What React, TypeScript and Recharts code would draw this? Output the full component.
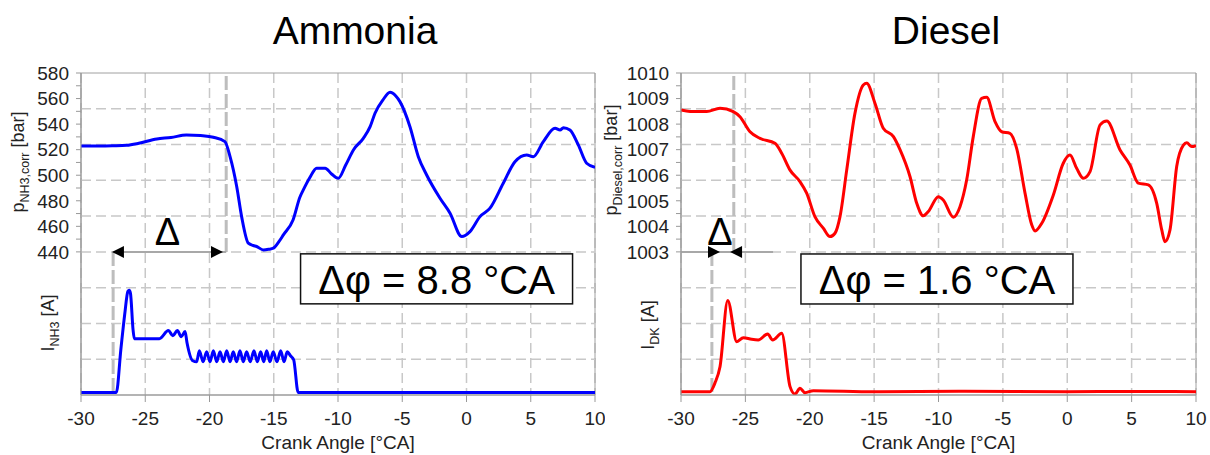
import React from 'react';
import {
  ComposedChart,
  Line,
  XAxis,
  YAxis,
  CartesianGrid,
  ReferenceLine,
  ReferenceDot,
  ReferenceArea,
} from 'recharts';

const FONT = '"Liberation Sans", Arial, sans-serif';

// ---------- shared axis data ----------
const crankTicks = [-30, -25, -20, -15, -10, -5, 0, 5, 10];
const nh3PressureTicks = [440, 450, 460, 470, 480, 490, 500, 510, 520, 530, 540, 550, 560, 570, 580];
const dieselPressureTicks = [1003, 1003.5, 1004, 1004.5, 1005, 1005.5, 1006, 1006.5, 1007, 1007.5, 1008, 1008.5, 1009, 1009.5, 1010];
// horizontal grid levels (9 equal rows over the whole panel), in each panel's pressure units
const nh3GridLevels = [356, 384, 412, 440, 468, 496, 524, 552];
const dieselGridLevels = [998.8, 1000.2, 1001.6, 1003, 1004.4, 1005.8, 1007.2, 1008.6];

// ---------- Ammonia (NH3) ----------
const nh3PressureAngle = [
  -30, -28.5, -27.5, -26.45, -25.5, -24.1, -23, -21.8, -20.7, -19.7, -18.8, -18.4, -17.88, -17.5, -16.98,
  -16.6, -16.33, -15.8, -15.4, -15.03, -14.6, -14.25, -13.5, -12.96, -12.7, -12.2, -11.66, -11.0, -10.5,
  -9.98, -9.4, -8.8, -8.03, -7.5, -7.12, -6.5, -5.95, -5.5, -5.18, -4.4, -3.75, -3.1, -2.06, -1.28, -0.37,
  0.27, 1.05, 1.83, 2.86, 3.77, 4.68, 5.2, 5.98, 6.89, 7.28, 7.54, 8.05, 8.7, 9.35, 10,
];
const nh3PressureBar = [
  522.9, 522.8, 523.0, 523.4, 525, 528.4, 529.5, 531.5, 531, 529.7, 526.3, 514.5, 491, 467.6, 446.8,
  445, 444.2, 441.5, 442, 442.9, 448, 453.3, 465, 483, 488.5, 498, 505.5, 505.5, 501,
  497.6, 508, 519.8, 528.9, 538, 548.5, 559, 564.9, 562, 557.6, 538, 514.5, 500.2, 482, 470.3, 452,
  455.9, 467.6, 474.2, 493.7, 510.6, 515.9, 514.5, 526.3, 536.7, 535.4, 537.2, 535.4, 523.7, 509.4, 506.2,
];
const nh3CurrentAngle = [
  -30, -27.25, -26.9, -26.6, -26.35, -26.25, -26.15, -25.95, -25.85, -24.5, -23.9, -23.2, -22.85, -22.5,
  -22.2, -21.9, -21.75, -21.3, -21.0, -20.79, -20.5, -20.22, -19.96, -19.7, -19.44, -19.18, -18.92, -18.66,
  -18.4, -18.15, -17.89, -17.63, -17.37, -17.11, -16.83, -16.54, -16.28, -16.02, -15.78, -15.55, -15.3,
  -15.04, -14.75, -14.46, -14.2, -13.95, -13.7, -13.45, -13.1, 10,
];
const nh3CurrentA = [
  0.25, 0.25, 4.5, 8.0, 10.3, 10.4, 10.1, 6.5, 5.6, 5.6, 5.6, 6.4, 5.9, 6.4,
  5.8, 6.3, 5.2, 3.4, 3.3, 4.4, 3.3, 4.3, 3.3, 4.4, 3.3, 4.3, 3.3, 4.4,
  3.3, 4.3, 3.3, 4.4, 3.3, 4.3, 3.3, 4.4, 3.3, 4.3, 3.3, 4.4, 3.3,
  4.3, 3.3, 4.4, 3.3, 4.3, 3.9, 3.5, 0.25, 0.25,
];

// ---------- Diesel ----------
const dieselPressureAngle = [
  -30, -29.3, -28, -26.97, -25.94, -25.42, -24.64, -23.86, -22.7, -22.18, -21.53, -20.76, -20.24, -19.6,
  -18.95, -18.43, -18.04, -17.65, -17.13, -16.49, -15.84, -15.58, -14.93, -14.29, -13.5, -12.99, -12.21,
  -11.69, -11.18, -10.79, -10.01, -9.63, -8.85, -8.33, -7.81, -7.3, -6.65, -6.26, -5.61, -5.09, -4.45,
  -3.93, -3.28, -2.76, -2.5, -1.98, -1.08, -0.31, 0.21, 0.73, 1.25, 1.77, 2.55, 3.07, 4.1, 4.87, 5.52,
  6.3, 6.95, 7.34, 7.59, 7.98, 8.5, 9.02, 9.28, 9.67, 10,
];
const dieselPressureBar = [
  1008.55, 1008.49, 1008.49, 1008.62, 1008.49, 1008.29, 1007.7, 1007.44, 1007.25, 1006.86, 1006.2, 1005.75,
  1005.3, 1004.38, 1003.93, 1003.6, 1003.73, 1004.38, 1006.2, 1008.42, 1009.53, 1009.6, 1008.81, 1007.84,
  1007.51, 1007.0, 1005.94, 1004.9, 1004.41, 1004.58, 1005.16, 1005.03, 1004.36, 1004.77, 1005.82, 1007.51,
  1009.01, 1009.05, 1008.1, 1007.7, 1007.64, 1007.05, 1005.3, 1004.06, 1003.82, 1004.12, 1005.23, 1006.47,
  1006.79, 1006.27, 1005.88, 1006.14, 1007.97, 1008.12, 1006.99, 1006.4, 1005.69, 1005.62, 1004.9, 1003.86,
  1003.4, 1003.86, 1006.34, 1007.18, 1007.27, 1007.12, 1007.16,
];
const dieselCurrentAngle = [
  -30, -27.75, -27.36, -26.97, -26.37, -25.67, -25.16, -24.51, -24.0, -23.27, -22.88, -22.18, -21.53,
  -21.15, -20.76, -20.37, -19.72, -15, -8, 0, 5, 10,
];
const dieselCurrentA = [
  0.33, 0.33, 1.2, 2.8, 9.4, 5.3, 5.7, 5.53, 5.47, 6.06, 5.47, 6.13, 0.83,
  0.1, 0.66, 0.23, 0.43, 0.33, 0.38, 0.33, 0.36, 0.33,
];

const zip = (xs: number[], ys: number[]) => xs.map((x, i) => ({ x, y: ys[i] }));

const nh3Pressure = zip(nh3PressureAngle, nh3PressureBar);
const nh3Current = zip(nh3CurrentAngle, nh3CurrentA);
const dieselPressure = zip(dieselPressureAngle, dieselPressureBar);
const dieselCurrent = zip(dieselCurrentAngle, dieselCurrentA);

// ---------- helpers ----------
const XLabel = (props: any) => {
  const vb = props.viewBox || { x: 0, y: 0, width: 0 };
  return (
    <text x={vb.x + vb.width / 2} y={vb.y + 54} textAnchor="middle" fontSize={19} fill="#222" fontFamily={FONT}>
      Crank Angle [°CA]
    </text>
  );
};

const YLabels = (props: any) => {
  const vb = props.viewBox || { x: 0, y: 0 };
  const { pSub, iSub, pX, pY, iX, iY } = props;
  const px = vb.x + pX;
  const py = vb.y + pY;
  const ix = vb.x + iX;
  const iy = vb.y + iY;
  return (
    <g fontFamily={FONT} fill="#222">
      <text transform={`rotate(-90 ${px} ${py})`} x={px} y={py} textAnchor="middle" fontSize={18}>
        p<tspan dy={5} fontSize={12.5}>{pSub}</tspan>
        <tspan dy={-5}> [bar]</tspan>
      </text>
      <text transform={`rotate(-90 ${ix} ${iy})`} x={ix} y={iy} textAnchor="middle" fontSize={18}>
        I<tspan dy={5} fontSize={12.5}>{iSub}</tspan>
        <tspan dy={-5}> [A]</tspan>
      </text>
    </g>
  );
};

const triangle = (dir: 'left' | 'right') => (p: any) => {
  const { cx, cy } = p;
  const w = 12;
  const h = 6;
  const pts =
    dir === 'left'
      ? `${cx},${cy} ${cx + w},${cy - h} ${cx + w},${cy + h}`
      : `${cx},${cy} ${cx - w},${cy - h} ${cx - w},${cy + h}`;
  return <polygon points={pts} fill="#000" />;
};

const deltaShape = (p: any) => (
  <text x={p.cx} y={p.cy} textAnchor="middle" fontSize={38} fontFamily={FONT} fill="#000">
    Δ
  </text>
);

const boxShape = (text: string) => (p: any) => (
  <g>
    <rect x={p.cx - 136} y={p.cy - 25} width={272} height={50} fill="#fff" stroke="#111" strokeWidth={1.5} />
    <text x={p.cx} y={p.cy + 15} textAnchor="middle" fontSize={40} fontFamily={FONT} fill="#000">
      {text}
    </text>
  </g>
);

type Arrow = { x: number; dir: 'left' | 'right' };

type PanelProps = {
  left: number;
  width: number;
  rightMargin: number;
  color: string;
  pData: { x: number; y: number }[];
  iData: { x: number; y: number }[];
  pDomain: [number, number];
  pTicks: number[];
  pFmt: (v: number) => string;
  gridLevels: number[];
  pSub: string;
  iSub: string;
  pLabelX: number;
  pLabelY: number;
  iLabelX: number;
  iLabelY: number;
  lowMarkerX: number;
  highMarkerX: number;
  refLevel: number;
  dimFrom: number;
  dimTo: number;
  arrows: Arrow[];
  deltaX: number;
  deltaY: number;
  boxX: number;
  boxY: number;
  boxText: string;
};

const Panel = (p: PanelProps) => {
  const [pMin, pMax] = p.pDomain;
  return (
    <div style={{ position: 'absolute', left: p.left, top: 0, width: p.width, height: 455 }}>
      <ComposedChart width={p.width} height={455} margin={{ top: 73, right: p.rightMargin, bottom: 0, left: 0 }}>
        <CartesianGrid horizontal={false} stroke="#c8c8c8" strokeWidth={1.5} strokeDasharray="10 5" />
        <XAxis
          dataKey="x"
          type="number"
          domain={[-30, 10]}
          ticks={crankTicks}
          interval={0}
          allowDataOverflow
          height={60}
          stroke="#999"
          tickSize={7}
          tickMargin={10}
          tick={{ fontSize: 19, fill: '#222', fontFamily: FONT }}
          label={<XLabel />}
        />
        <YAxis
          yAxisId="p"
          type="number"
          orientation="left"
          width={81}
          domain={p.pDomain}
          ticks={p.pTicks}
          interval={0}
          allowDataOverflow
          tickFormatter={p.pFmt}
          stroke="#999"
          tickSize={5}
          tickMargin={7}
          tick={{ fontSize: 19, fill: '#222', fontFamily: FONT }}
          label={
            <YLabels pSub={p.pSub} iSub={p.iSub} pX={p.pLabelX} pY={p.pLabelY} iX={p.iLabelX} iY={p.iLabelY} />
          }
        />
        <YAxis yAxisId="i" type="number" orientation="right" width={0} hide domain={[0, 32]} allowDataOverflow />
        {p.gridLevels.map((g) => (
          <ReferenceLine
            key={g}
            yAxisId="p"
            y={g}
            stroke="#c8c8c8"
            strokeWidth={1.5}
            strokeDasharray="10 5"
          />
        ))}
        <ReferenceArea
          yAxisId="p"
          x1={-30}
          x2={10}
          y1={pMin}
          y2={pMax}
          fill="#fff"
          fillOpacity={0}
          stroke="#a0a0a0"
          strokeWidth={1}
          ifOverflow="visible"
        />
        <ReferenceLine
          yAxisId="p"
          segment={[
            { x: p.lowMarkerX, y: p.refLevel },
            { x: p.lowMarkerX, y: pMin + (p.refLevel - pMin) * 0.015 },
          ]}
          stroke="#bdbdbd"
          strokeWidth={3}
          strokeDasharray="14 4"
        />
        <ReferenceLine
          yAxisId="p"
          segment={[
            { x: p.highMarkerX, y: p.refLevel },
            { x: p.highMarkerX, y: pMax },
          ]}
          stroke="#bdbdbd"
          strokeWidth={3}
          strokeDasharray="14 4"
        />
        <ReferenceLine
          yAxisId="p"
          segment={[
            { x: p.dimFrom, y: p.refLevel },
            { x: p.dimTo, y: p.refLevel },
          ]}
          stroke="#a8a8a8"
          strokeWidth={2}
        />
        <Line
          data={p.pData}
          dataKey="y"
          yAxisId="p"
          type="monotone"
          stroke={p.color}
          strokeWidth={3}
          dot={false}
          isAnimationActive={false}
        />
        <Line
          data={p.iData}
          dataKey="y"
          yAxisId="i"
          type="monotone"
          stroke={p.color}
          strokeWidth={3}
          dot={false}
          isAnimationActive={false}
        />
        {p.arrows.map((a, k) => (
          <ReferenceDot key={k} yAxisId="p" x={a.x} y={p.refLevel} r={1} shape={triangle(a.dir)} />
        ))}
        <ReferenceDot yAxisId="p" x={p.deltaX} y={p.deltaY} r={1} shape={deltaShape} />
        <ReferenceDot yAxisId="p" x={p.boxX} y={p.boxY} r={1} shape={boxShape(p.boxText)} />
      </ComposedChart>
    </div>
  );
};

export default function App() {
  return (
    <div style={{ position: 'absolute', left: 0, top: 0, width: 1210, height: 455, background: '#fff' }}>
      <Panel
        left={0}
        width={605}
        rightMargin={10}
        color="#0000ff"
        pData={nh3Pressure}
        iData={nh3Current}
        pDomain={[328, 580]}
        pTicks={nh3PressureTicks}
        pFmt={(v: number) => (v % 20 === 0 ? String(v) : '')}
        gridLevels={nh3GridLevels}
        pSub="NH3,corr"
        iSub="NH3"
        pLabelX={24}
        pLabelY={89}
        iLabelX={54}
        iLabelY={250}
        lowMarkerX={-27.5}
        highMarkerX={-18.7}
        refLevel={440}
        dimFrom={-27.5}
        dimTo={-18.7}
        arrows={[
          { x: -27.59, dir: 'left' },
          { x: -18.95, dir: 'right' },
        ]}
        deltaX={-23.27}
        deltaY={445.5}
        boxX={-2.33}
        boxY={418.9}
        boxText="Δφ = 8.8 °CA"
      />
      <Panel
        left={600}
        width={610}
        rightMargin={14}
        color="#ff0000"
        pData={dieselPressure}
        iData={dieselCurrent}
        pDomain={[997.4, 1010]}
        pTicks={dieselPressureTicks}
        pFmt={(v: number) => (Number.isInteger(v) ? String(v) : '')}
        gridLevels={dieselGridLevels}
        pSub="Diesel,corr"
        iSub="DK"
        pLabelX={17}
        pLabelY={87}
        iLabelX={54}
        iLabelY={252}
        lowMarkerX={-27.6}
        highMarkerX={-25.9}
        refLevel={1003}
        dimFrom={-30}
        dimTo={-22.85}
        arrows={[
          { x: -26.97, dir: 'right' },
          { x: -26.19, dir: 'left' },
        ]}
        deltaX={-26.97}
        deltaY={1003.27}
        boxX={-10.12}
        boxY={1001.94}
        boxText="Δφ = 1.6 °CA"
      />
      <svg width={1210} height={455} style={{ position: 'absolute', left: 0, top: 0, pointerEvents: 'none' }}>
        <text x={355} y={44} textAnchor="middle" fontSize={39} fontFamily={FONT} fill="#000">
          Ammonia
        </text>
        <text x={946} y={44} textAnchor="middle" fontSize={39} fontFamily={FONT} fill="#000">
          Diesel
        </text>
      </svg>
    </div>
  );
}
